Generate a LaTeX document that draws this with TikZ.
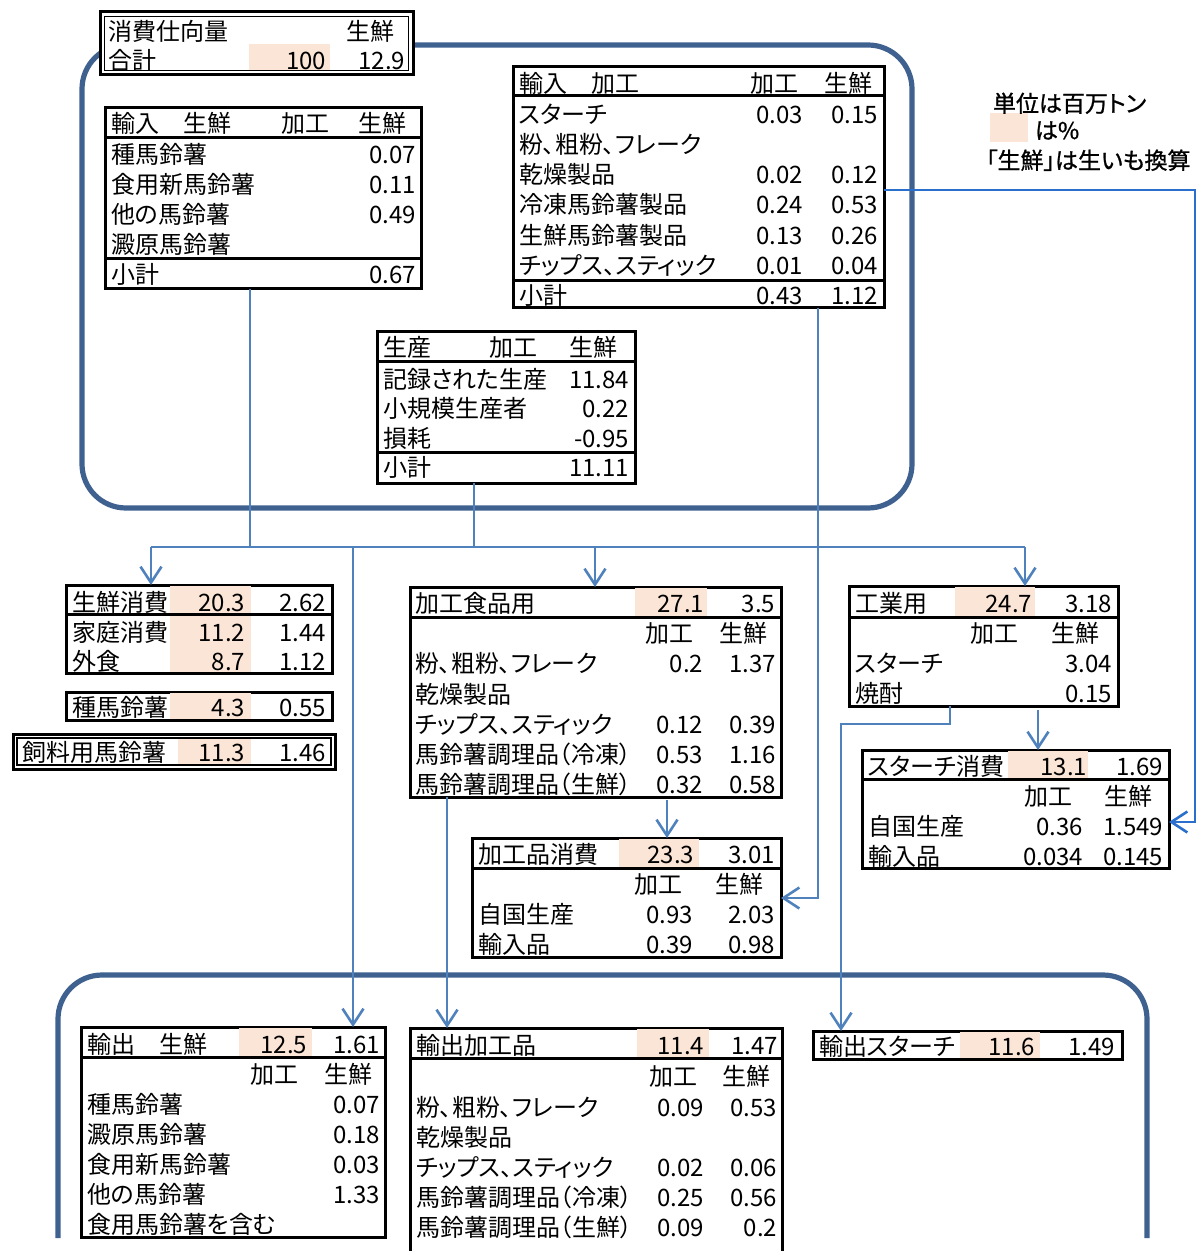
\documentclass[tikz,border=0pt]{standalone}
\usepackage{fontspec}
\setmainfont{Noto Sans CJK JP}[RawFeature=+palt]
\newfontfamily\legfont{Noto Sans CJK JP}[RawFeature=+palt,FakeBold=1]
\usetikzlibrary{arrows.meta}
\definecolor{peach}{HTML}{FBE5D6}
\definecolor{framec}{HTML}{3F6190}
\definecolor{connc}{HTML}{4F81BD}
\definecolor{connb}{HTML}{2A6FCB}
\newcounter{tn}
\newcommand\TL[3]{\stepcounter{tn}\node[txt,anchor=base west] (t\arabic{tn}) at (#1,#2+9) {#3};}
\newcommand\TR[3]{\stepcounter{tn}\node[txt,anchor=base east] (t\arabic{tn}) at (#1,#2+9) {#3};}
\newcommand\TB[3]{\stepcounter{tn}\node[txt,anchor=base west,font=\fontsize{11.5pt}{14pt}\legfont] (t\arabic{tn}) at (#1,#2+9) {#3};}
\newcommand\TBOX[5]{\node[tb,anchor=north west,minimum width={(#4-#2)*0.5pt},minimum height={(#5-#3)*0.5pt}] (#1) at (#2,#3) {};}
\newcommand\PCH[4]{\fill[peach] (#1,#2) rectangle (#3,#4);}
\newcommand\SEP[3]{\draw[sepl] (#1,#3) -- (#2,#3);}
\begin{document}
\begin{tikzpicture}[x=0.5pt,y=-0.5pt,
  tb/.style={draw=black,line width=1.5pt,fill=white,inner sep=0pt,outer sep=0pt,rectangle},
  txt/.style={inner sep=0pt,outer sep=0pt,font=\fontsize{12pt}{14pt}\selectfont},
  sepl/.style={draw=black,line width=1.5pt},
  bigrr/.style={draw=framec,line width=2.6pt,rounded corners=22pt},
  ln/.style={draw=connc,line width=1.3pt},
  cn/.style={draw=connc,line width=1.3pt,-{Straight Barb[length=8pt,width=10.5pt]}}]
\useasboundingbox (0,0) rectangle (1199,1251);
% big frames
\draw[bigrr] (82,45) rectangle (912,508);
\draw[bigrr] (58,1238) -- (58,975) -- (1147,975) -- (1147,1238);
% boxes
\TBOX{tot}{100}{12}{413}{75}
\draw[line width=0.8pt] (104.5,16.5) rectangle (408.5,70.5);
\TBOX{imp1}{105}{108}{421}{289}
\TBOX{imp2}{513}{67}{884}{308}
\TBOX{prod}{377}{332}{635}{483}
\TBOX{fresh}{66}{585}{332}{673}
\TBOX{seed}{66}{692}{332}{720}
\TBOX{feed}{13}{734}{335}{769}
\draw[line width=0.8pt] (17,738) rectangle (331,765);
\TBOX{proc}{410}{587}{781}{797}
\TBOX{pc}{472}{838}{781}{957}
\TBOX{ind}{849}{586}{1118}{706}
\TBOX{starch}{862}{750}{1169}{868}
\TBOX{exp1}{81}{1027}{385}{1237}
\TBOX{exp2}{410}{1028}{782}{1262}
\TBOX{exp3}{813}{1031}{1122}{1059}
% peach cells
\PCH{249}{44}{330}{70}
\PCH{170}{586}{251}{672}
\PCH{170}{693}{251}{719}
\PCH{178}{739}{251}{764}
\PCH{635}{588}{707}{616}
\PCH{619}{839}{699}{867}
\PCH{955}{587}{1035}{616}
\PCH{1008}{751}{1088}{778}
\PCH{239}{1028}{312}{1056}
\PCH{637}{1029}{709}{1057}
\PCH{960}{1032}{1040}{1058}
\PCH{990}{113}{1028}{142}
% separators
\SEP{105}{421}{138}\SEP{105}{421}{259}
\SEP{513}{884}{96}\SEP{513}{884}{281}
\SEP{377}{635}{361}\SEP{377}{635}{452}
\SEP{66}{332}{614}
\SEP{410}{781}{617}
\SEP{472}{781}{868}
\SEP{849}{1118}{617}
\SEP{862}{1169}{779}
\SEP{81}{385}{1057}
\SEP{410}{782}{1058}
% texts: total
\TL{108}{32}{消費仕向量}\TR{394}{32}{生鮮}
\TL{108}{61}{合計}\TR{326}{61}{100}\TR{405}{61}{12.9}
% import fresh
\TL{111}{124}{輸入　生鮮}\TR{329}{124}{加工}\TR{406}{124}{生鮮}
\TL{111}{155}{種馬鈴薯}\TR{416}{155}{0.07}
\TL{111}{185}{食用新馬鈴薯}\TR{416}{185}{0.11}
\TL{111}{215}{他の馬鈴薯}\TR{416}{215}{0.49}
\TL{111}{245}{澱原馬鈴薯}
\TL{111}{275}{小計}\TR{416}{275}{0.67}
% import processed
\TL{519}{84}{輸入　加工}\TR{798}{84}{加工}\TR{872}{84}{生鮮}
\TL{519}{115}{スターチ}\TR{803}{115}{0.03}\TR{878}{115}{0.15}
\TL{519}{145}{粉、粗粉、フレーク}
\TL{519}{175}{乾燥製品}\TR{803}{175}{0.02}\TR{878}{175}{0.12}
\TL{519}{205}{冷凍馬鈴薯製品}\TR{803}{205}{0.24}\TR{878}{205}{0.53}
\TL{519}{236}{生鮮馬鈴薯製品}\TR{803}{236}{0.13}\TR{878}{236}{0.26}
\TL{519}{266}{チップス、スティック}\TR{803}{266}{0.01}\TR{878}{266}{0.04}
\TL{519}{296}{小計}\TR{803}{296}{0.43}\TR{878}{296}{1.12}
% legend
\TB{993}{103}{単位は百万トン}
\TB{1035}{130}{は\%}
\TB{986}{160}{「生鮮」は生いも換算}
% production
\TL{383}{348}{生産}\TR{537}{348}{加工}\TR{617}{348}{生鮮}
\TL{383}{379}{記録された生産}\TR{629}{379}{11.84}
\TL{383}{408}{小規模生産者}\TR{629}{408}{0.22}
\TL{383}{438}{損耗}\TR{629}{438}{-0.95}
\TL{383}{467}{小計}\TR{629}{467}{11.11}
% fresh consumption
\TL{72}{602}{生鮮消費}\TR{245}{602}{20.3}\TR{326}{602}{2.62}
\TL{72}{632}{家庭消費}\TR{245}{632}{11.2}\TR{326}{632}{1.44}
\TL{72}{661}{外食}\TR{245}{661}{8.7}\TR{326}{661}{1.12}
\TL{72}{707}{種馬鈴薯}\TR{245}{707}{4.3}\TR{326}{707}{0.55}
\TL{22}{752}{飼料用馬鈴薯}\TR{245}{752}{11.3}\TR{326}{752}{1.46}
% processed food
\TL{415}{603}{加工食品用}\TR{704}{603}{27.1}\TR{775}{603}{3.5}
\TR{693}{633}{加工}\TR{767}{633}{生鮮}
\TL{415}{663}{粉、粗粉、フレーク}\TR{703}{663}{0.2}\TR{776}{663}{1.37}
\TL{415}{694}{乾燥製品}
\TL{415}{724}{チップス、スティック}\TR{703}{724}{0.12}\TR{776}{724}{0.39}
\TL{415}{754}{馬鈴薯調理品（冷凍）}\TR{703}{754}{0.53}\TR{776}{754}{1.16}
\TL{415}{784}{馬鈴薯調理品（生鮮）}\TR{703}{784}{0.32}\TR{776}{784}{0.58}
% processed consumption
\TL{478}{854}{加工品消費}\TR{694}{854}{23.3}\TR{775}{854}{3.01}
\TR{682}{884}{加工}\TR{763}{884}{生鮮}
\TL{478}{914}{自国生産}\TR{693}{914}{0.93}\TR{775}{914}{2.03}
\TL{478}{944}{輸入品}\TR{693}{944}{0.39}\TR{775}{944}{0.98}
% industrial
\TL{855}{603}{工業用}\TR{1032}{603}{24.7}\TR{1112}{603}{3.18}
\TR{1018}{633}{加工}\TR{1099}{633}{生鮮}
\TL{855}{663}{スターチ}\TR{1112}{663}{3.04}
\TL{855}{693}{焼酎}\TR{1112}{693}{0.15}
% starch consumption
\TL{868}{766}{スターチ消費}\TR{1087}{766}{13.1}\TR{1163}{766}{1.69}
\TR{1072}{796}{加工}\TR{1152}{796}{生鮮}
\TL{868}{826}{自国生産}\TR{1083}{826}{0.36}\TR{1163}{826}{1.549}
\TL{868}{856}{輸入品}\TR{1083}{856}{0.034}\TR{1163}{856}{0.145}
% export fresh
\TL{87}{1044}{輸出　生鮮}\TR{307}{1044}{12.5}\TR{380}{1044}{1.61}
\TR{298}{1074}{加工}\TR{372}{1074}{生鮮}
\TL{87}{1104}{種馬鈴薯}\TR{380}{1104}{0.07}
\TL{87}{1134}{澱原馬鈴薯}\TR{380}{1134}{0.18}
\TL{87}{1164}{食用新馬鈴薯}\TR{380}{1164}{0.03}
\TL{87}{1194}{他の馬鈴薯}\TR{380}{1194}{1.33}
\TL{87}{1224}{食用馬鈴薯を含む}
% export processed
\TL{416}{1045}{輸出加工品}\TR{704}{1045}{11.4}\TR{778}{1045}{1.47}
\TR{697}{1076}{加工}\TR{770}{1076}{生鮮}
\TL{416}{1107}{粉、粗粉、フレーク}\TR{704}{1107}{0.09}\TR{777}{1107}{0.53}
\TL{416}{1137}{乾燥製品}
\TL{416}{1167}{チップス、スティック}\TR{704}{1167}{0.02}\TR{777}{1167}{0.06}
\TL{416}{1197}{馬鈴薯調理品（冷凍）}\TR{704}{1197}{0.25}\TR{777}{1197}{0.56}
\TL{416}{1227}{馬鈴薯調理品（生鮮）}\TR{704}{1227}{0.09}\TR{777}{1227}{0.2}
% export starch
\TL{819}{1046}{輸出スターチ}\TR{1035}{1046}{11.6}\TR{1115}{1046}{1.49}
% connectors
\coordinate (jA) at (250,547);
\coordinate (jB) at (474,547);
\coordinate (hL) at (151,547);
\coordinate (hR) at (1025,547);
\coordinate (jP) at (595,547);
\coordinate (jE) at (353,547);
\coordinate (xA) at (447,800);
\coordinate (xB) at (667,800);
\coordinate (xC) at (1038,710);
\coordinate (b1) at (950,724);
\coordinate (b2) at (841,724);
\coordinate (c1) at (818,898);
\coordinate (d0) at (900,190);
\coordinate (d1) at (1195,190);
\coordinate (d2) at (1195,822);
\draw[ln] (imp1.south -| jA) -- (jA);
\draw[ln] (prod.south -| jB) -- (jB);
\draw[ln] (hL) -- (hR);
\draw[cn] (hL) -- (fresh.north -| hL);
\draw[cn] (jP) -- (proc.north -| jP);
\draw[cn] (hR) -- (ind.north -| hR);
\draw[cn] (jE) -- (exp1.north -| jE);
\draw[cn] (proc.south -| xA) -- (exp2.north -| xA);
\draw[cn] (xB) -- (pc.north -| xB);
\draw[cn] (xC) -- (starch.north -| xC);
\draw[cn] (ind.south -| b1) -- (b1) -- (b2) -- (exp3.north -| b2);
\draw[cn] (imp2.south -| c1) -- (c1) -- (pc.east |- c1);
\draw[cn,draw=connb] (imp2.east |- d0) -- (d1) -- (d2) -- (starch.east |- d2);
\end{tikzpicture}
\end{document}
